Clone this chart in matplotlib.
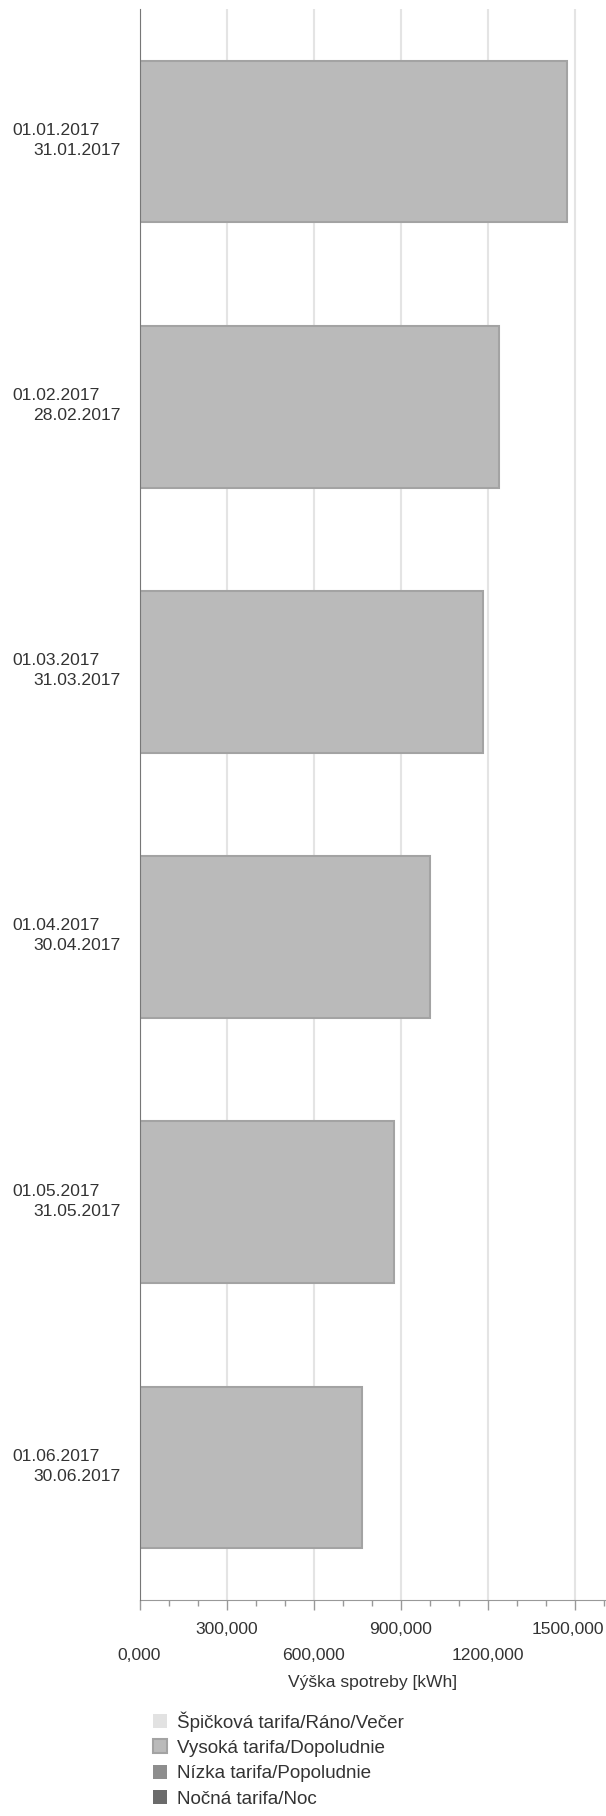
import matplotlib
matplotlib.use('Agg')
import matplotlib.pyplot as plt
import matplotlib.transforms as mtransforms
import numpy as np

plt.rcParams['font.family'] = ['Liberation Sans', 'DejaVu Sans']

# Obdobia (od - do)
start_dates = ['01.01.2017', '01.02.2017', '01.03.2017', '01.04.2017', '01.05.2017', '01.06.2017']
end_dates = ['31.01.2017', '28.02.2017', '31.03.2017', '30.04.2017', '31.05.2017', '30.06.2017']

# Spotreba podla tarify [kWh]
series_names = ['Špičková tarifa/Ráno/Večer', 'Vysoká tarifa/Dopoludnie',
                'Nízka tarifa/Popoludnie', 'Nočná tarifa/Noc']
spickova = [0, 0, 0, 0, 0, 0]
vysoka = [1471000, 1237000, 1182000, 1000000, 877000, 767000]
nizka = [0, 0, 0, 0, 0, 0]
nocna = [0, 0, 0, 0, 0, 0]
series_colors = ['#e2e2e2', '#bababa', '#8e8e8e', '#6b6b6b']
edge_colors = ['#cfcfcf', '#a3a3a3', '#7c7c7c', '#5a5a5a']

x_ticks = [0, 300000, 600000, 900000, 1200000, 1500000]
x_ticklabels = ['0,000', '300,000', '600,000', '900,000', '1200,000', '1500,000']

text_color = '#333333'
fs = 12.6

fig = plt.figure(figsize=(6.06, 18.16), dpi=100)
ax = fig.add_axes([139.5 / 606, 1 - 1600 / 1816, 1 - 139.5 / 606, (1600 - 9) / 1816])

y = np.arange(len(start_dates))
left = np.zeros(len(y))
handles = []
for vals, name, c, ec in zip([spickova, vysoka, nizka, nocna], series_names, series_colors, edge_colors):
    vals = np.array(vals, dtype=float)
    lw = [1.5 if v > 0 else 0 for v in vals]
    bars = ax.barh(y, vals, left=left, height=0.61, color=c, edgecolor=ec,
                   linewidth=lw, label=name, zorder=3)
    handles.append(bars)
    left += vals

ax.set_ylim(len(y) - 0.5, -0.5)
ax.set_xlim(0, 1607000)

# mriezka
ax.set_xticks(x_ticks)
ax.set_xticks(np.arange(0, 1600001, 100000), minor=True)
# posledny popisok sa nezmesti na stred, kresli sa zvlast
ax.set_xticklabels(x_ticklabels[:-1] + [''])
ax.grid(axis='x', which='major', color='#e4e4e4', linewidth=1.5, zorder=0)
ax.set_yticks([])

for s in ['top', 'right']:
    ax.spines[s].set_visible(False)
ax.spines['left'].set_color('#777777')
ax.spines['bottom'].set_color('#999999')
ax.spines['left'].set_zorder(4)

ax.tick_params(axis='x', which='major', length=7.5, width=1, color='#999999',
               labelsize=fs, labelcolor=text_color)
ax.tick_params(axis='x', which='minor', length=4, width=1, color='#999999')

# striedave popisky osi x
for i, t in enumerate(ax.xaxis.get_major_ticks()):
    t.set_pad(8.0 if i % 2 == 1 else 27.0)

last_tr = ax.get_xaxis_transform() + mtransforms.ScaledTranslation(29 / 100, -(7.5 + 8.0) / 72, fig.dpi_scale_trans)
ax.text(x_ticks[-1], 0, x_ticklabels[-1], transform=last_tr, ha='right', va='top',
        fontsize=fs, color=text_color)

# popisky obdobi
for i in range(len(y)):
    t1 = ax.get_yaxis_transform() + mtransforms.ScaledTranslation(-28.4 / 72, 4.75 / 72, fig.dpi_scale_trans)
    t2 = ax.get_yaxis_transform() + mtransforms.ScaledTranslation(-13.3 / 72, -9.65 / 72, fig.dpi_scale_trans)
    ax.text(0, y[i], start_dates[i], transform=t1, ha='right', va='baseline',
            fontsize=fs, color=text_color)
    ax.text(0, y[i], end_dates[i], transform=t2, ha='right', va='baseline',
            fontsize=fs, color=text_color)

fig.text(373 / 606, 1 - 1683 / 1816, 'Výška spotreby [kWh]', ha='center', va='center',
         fontsize=fs, color=text_color)

fig.legend(handles, series_names, loc='upper left', bbox_to_anchor=(145 / 606, 1 - 1703.5 / 1816),
           frameon=False, fontsize=13.6, handlelength=0.75, handleheight=0.75,
           handletextpad=0.55, labelspacing=0.42, labelcolor=text_color, borderaxespad=0)

fig.savefig('out.png', dpi=100)
